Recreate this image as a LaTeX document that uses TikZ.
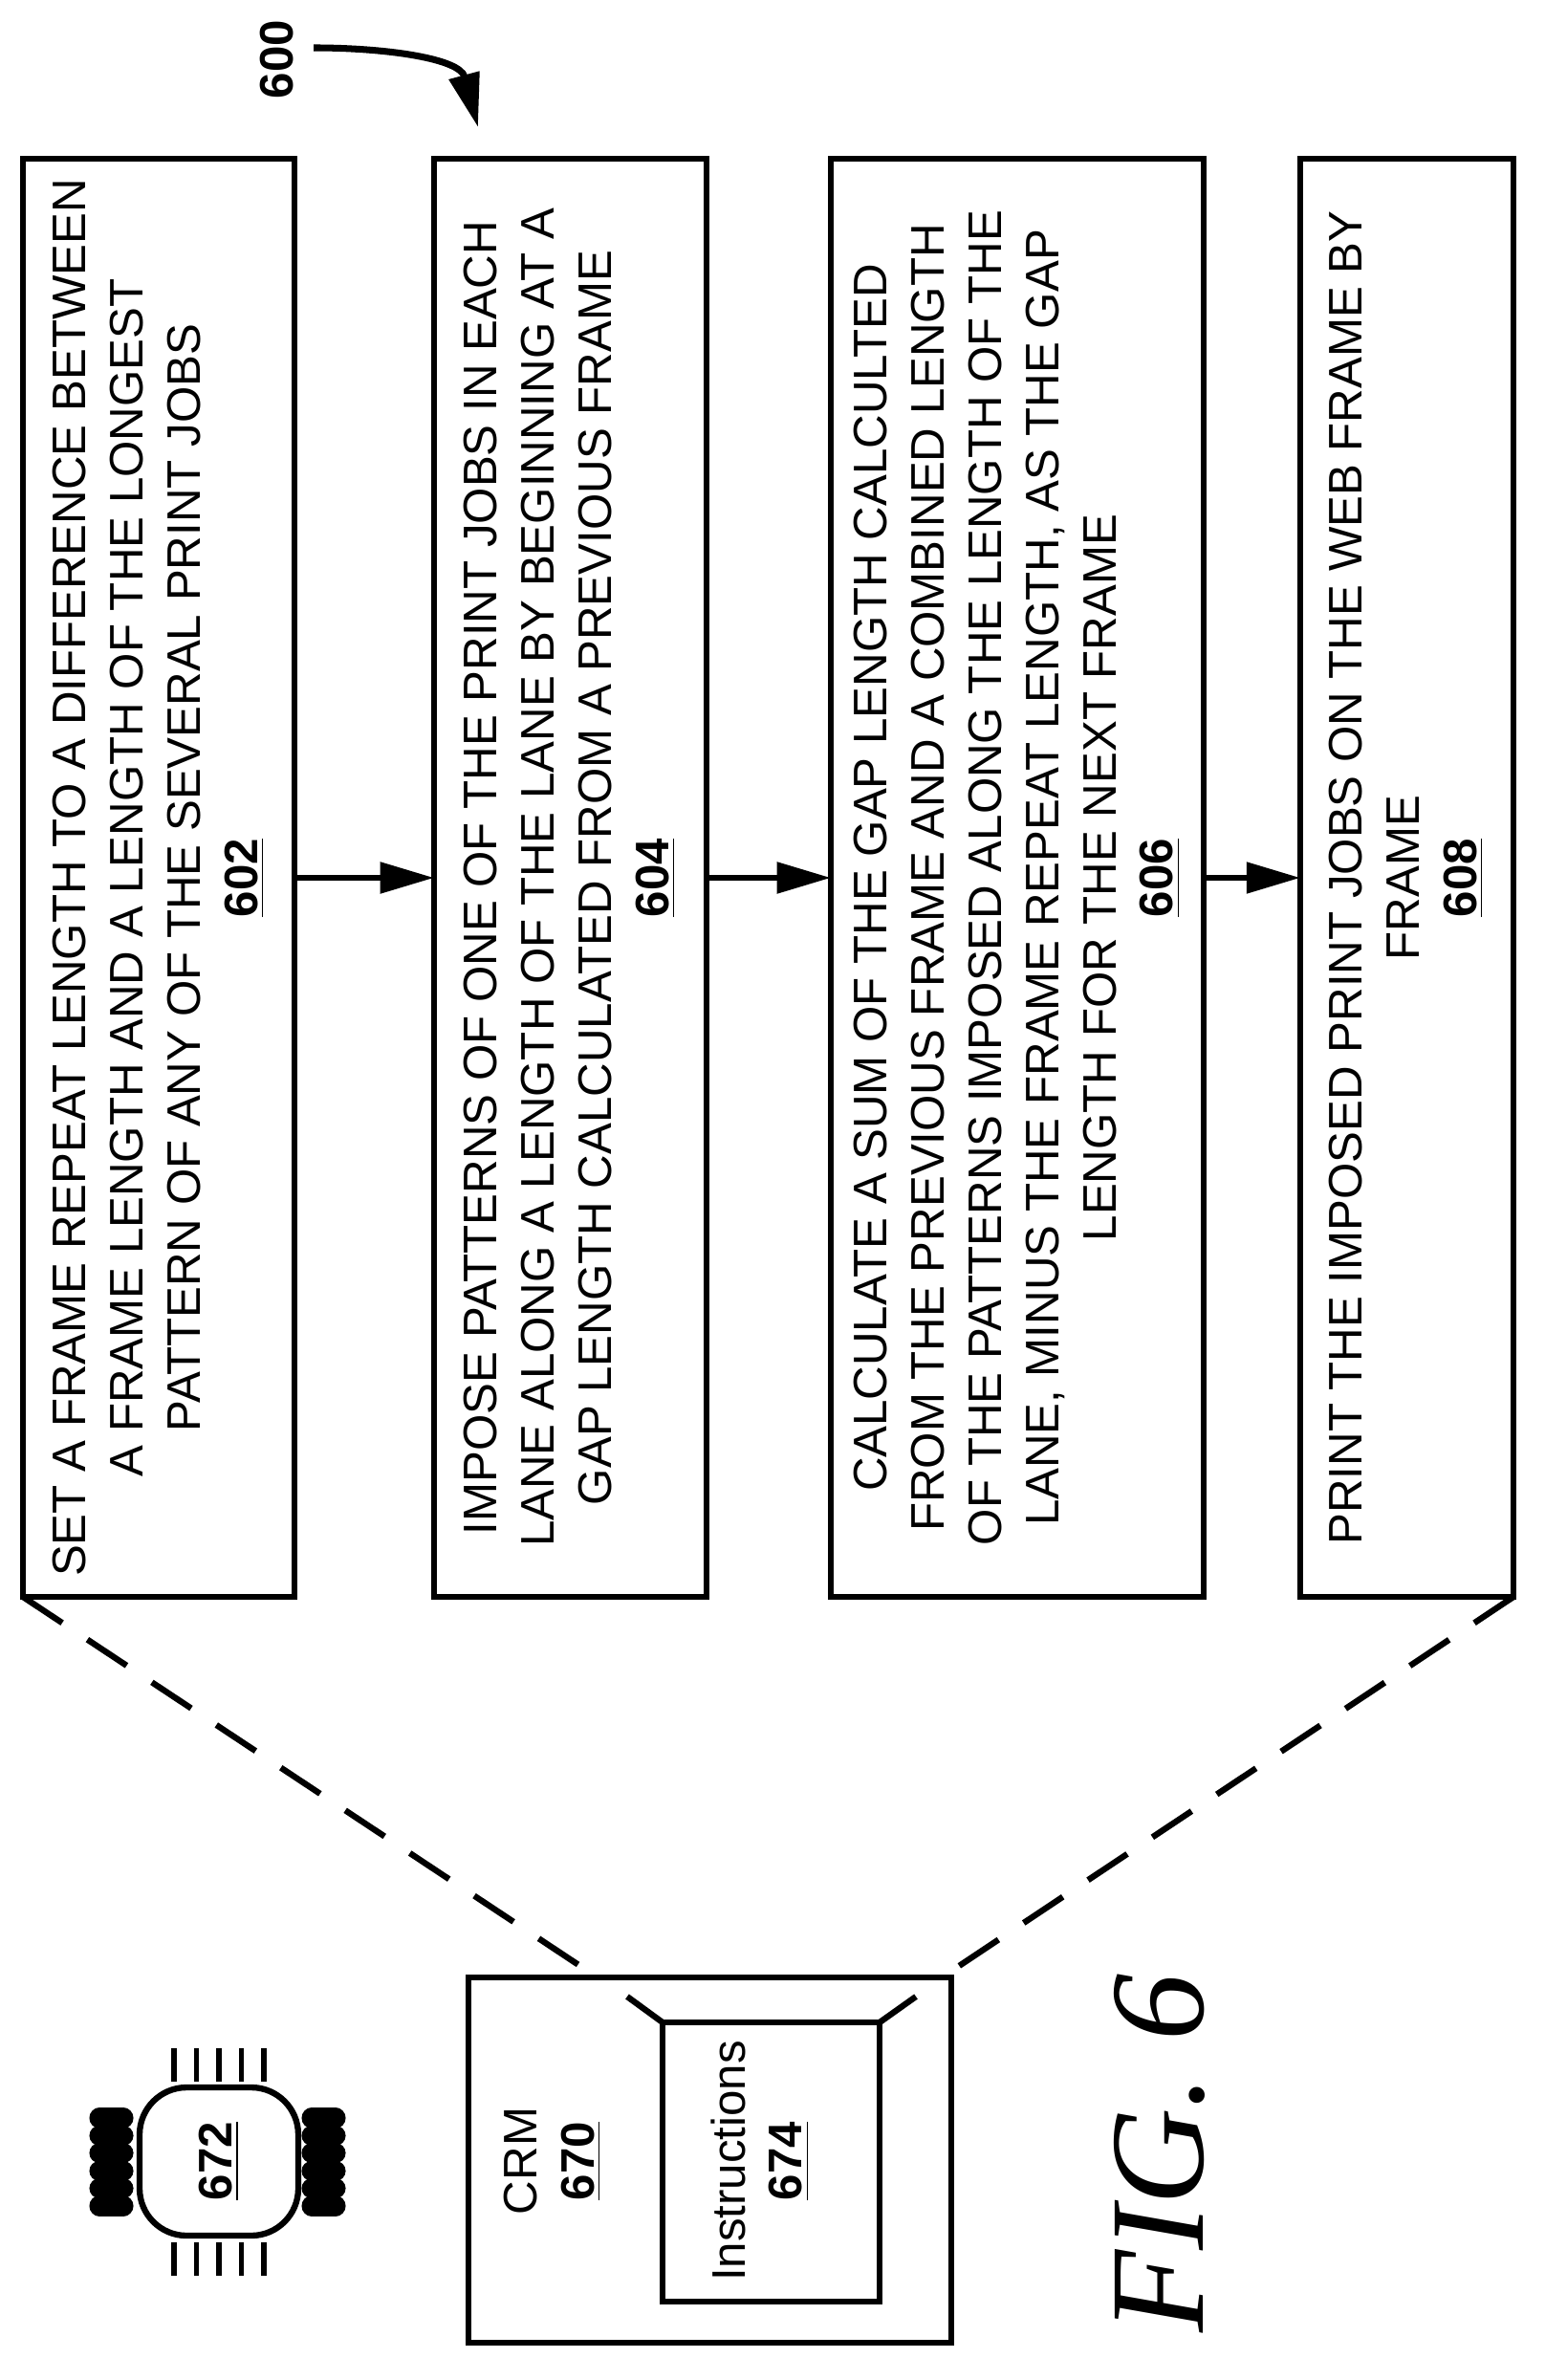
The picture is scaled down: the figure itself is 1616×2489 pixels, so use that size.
\documentclass[tikz,border=0pt]{standalone}
\usepackage{fontspec}
\setmainfont{Liberation Sans}
\usetikzlibrary{arrows.meta}
\tikzstyle{every node}=[font=\fontsize{14}{17}\selectfont]

\begin{document}
\begin{tikzpicture}[
            x=0.01cm, y=-0.01cm,
            box/.style={draw, line width=1.6pt},
            txt/.style={rotate=90, align=center, inner sep=0pt},
            link/.style={line width=1.8pt, -{Triangle[length=16pt,width=9pt]}},
            zoomline/.style={line width=1.8pt, dash pattern=on 14pt off 9pt}]
        \useasboundingbox (0,0) rectangle (1616,2489);
        % flow boxes
        \draw[box] (24,166) rectangle (308,1670);
        \draw[box] (454,166) rectangle (739,1670);
        \draw[box] (869,166) rectangle (1259,1670);
        \draw[box] (1360,166) rectangle (1583,1670);
        \coordinate (b602nw) at (24,1670);
        \coordinate (b608se) at (1583,1670);
        \node[txt] (s602) at (166,918) {SET A FRAME REPEAT LENGTH TO A DIFFERENCE BETWEEN\\A FRAME LENGTH AND A LENGTH OF THE LONGEST\\PATTERN OF ANY OF THE SEVERAL PRINT JOBS\\\textbf{\underline{602}}};
        \node[txt] (s604) at (596,918) {IMPOSE PATTERNS OF ONE OF THE PRINT JOBS IN EACH\\LANE ALONG A LENGTH OF THE LANE BY BEGINNING AT A\\GAP LENGTH CALCULATED FROM A PREVIOUS FRAME\\\textbf{\underline{604}}};
        \node[txt] (s606) at (1064,918) {CALCULATE A SUM OF THE GAP LENGTH CALCULTED\\FROM THE PREVIOUS FRAME AND A COMBINED LENGTH\\OF THE PATTERNS IMPOSED ALONG THE LENGTH OF THE\\LANE, MINUS THE FRAME REPEAT LENGTH, AS THE GAP\\LENGTH FOR THE NEXT FRAME\\\textbf{\underline{606}}};
        \node[txt] (s608) at (1471,918) {PRINT THE IMPOSED PRINT JOBS ON THE WEB FRAME BY\\FRAME\\\textbf{\underline{608}}};
        \coordinate (a1) at (308,918); \coordinate (a2) at (454,918);
        \coordinate (a3) at (739,918); \coordinate (a4) at (869,918);
        \coordinate (a5) at (1259,918); \coordinate (a6) at (1360,918);
        \draw[link] (a1) -- (a2);
        \draw[link] (a3) -- (a4);
        \draw[link] (a5) -- (a6);
        % reference label
        \node[rotate=90, font=\bfseries\fontsize{14}{17}\selectfont] (l600) at (290,62) {600};
        \coordinate (c600) at (500,133);
        \draw[link, line width=2pt] (328,50) to[out=0, in=105] (c600);
        % storage medium
        \draw[box] (490,2068) rectangle (995,2450);
        \draw[box] (693,2115) rectangle (920,2407);
        \coordinate (crml) at (625,2068); \coordinate (crmr) at (985,2068);
        \draw[zoomline] (b602nw) -- (crml);
        \draw[zoomline] (b608se) -- (crmr);
        \draw[line width=1.8pt] (656,2088) -- (693,2115);
        \draw[line width=1.8pt] (958,2088) -- (920,2115);
        \node[txt] (crm) at (578,2260) {CRM\\\textbf{\underline{670}}};
        \node[txt] (ins) at (795,2260) {Instructions\\\textbf{\underline{674}}};
        % processor
        \draw[line width=1.8pt, rounded corners=14pt] (146,2183) rectangle (312,2338);
        \node[rotate=90, font=\bfseries\fontsize{14}{17}\selectfont] (cpu) at (229,2260) {\underline{672}};
        \foreach \i in {0,...,4} {
            \draw[line width=1.6pt] (182+\i*23.5,2142) -- (182+\i*23.5,2177);
            \draw[line width=1.6pt] (182+\i*23.5,2345) -- (182+\i*23.5,2380);
        }
        \foreach \j in {0,...,5} {
            \draw[line width=6pt, line cap=round] (104,2215+\j*18.4) -- (129,2215+\j*18.4);
            \draw[line width=6pt, line cap=round] (326,2215+\j*18.4) -- (351,2215+\j*18.4);
        }
        \node[rotate=90, font=\fontspec{Liberation Serif}\itshape\fontsize{40}{40}\selectfont] (fig) at (1213,2252) {FIG. 6};
    \end{tikzpicture}
\end{document}
